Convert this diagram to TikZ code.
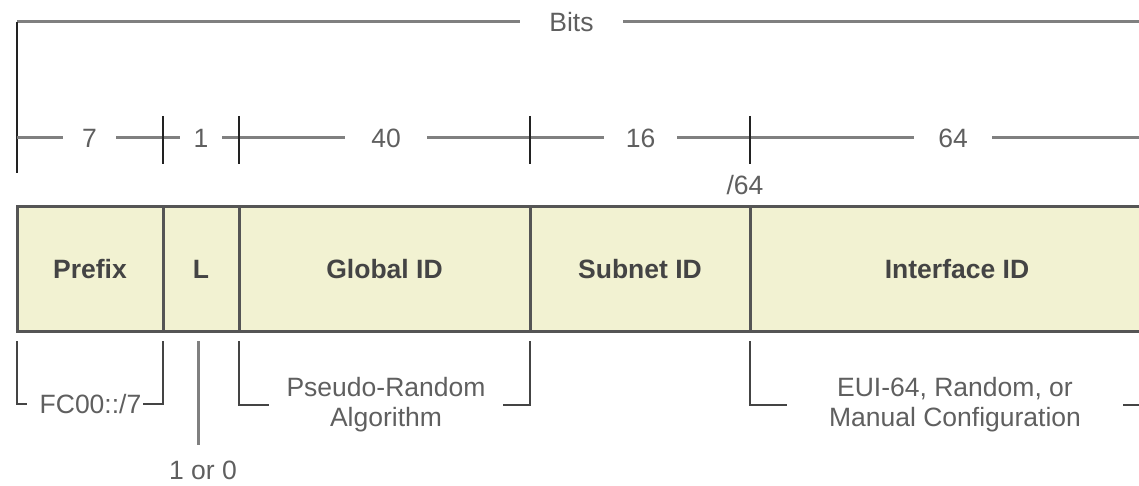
\documentclass[tikz,border=0pt]{standalone}
\usepackage{fontspec}
\setmainfont{Liberation Sans}
\definecolor{cellfill}{RGB}{242,242,210}
\definecolor{cellborder}{RGB}{85,85,85}
\definecolor{rulergray}{RGB}{128,128,128}
\definecolor{txtgray}{RGB}{95,95,95}
\definecolor{boldgray}{RGB}{68,68,68}
\definecolor{tickcol}{RGB}{34,34,34}
\begin{document}
\begin{tikzpicture}[x=1pt,y=-1pt,
  every node/.style={font=\fontsize{26.5}{30}\selectfont, text=txtgray, inner sep=0pt},
  cell/.style={draw=cellborder, line width=3pt, fill=cellfill, minimum height=124pt, font=\fontsize{26.5}{30}\selectfont\bfseries, text=boldgray},
  rulerline/.style={draw=rulergray, line width=3pt},
  tickline/.style={draw=tickcol, line width=2pt},
  bracketline/.style={draw=boldgray, line width=2pt},
  gapnode/.style={minimum height=20pt},
]
\useasboundingbox (0,0) rectangle (1139,486);
\clip (0,0) rectangle (1139,486);

% top "Bits" span
\node[gapnode, minimum width=103pt] (bits) at (571.5,22) {Bits};
\coordinate (tl) at (17,22);
\coordinate (tlb) at (17,173);
\coordinate (tr) at (1145,22);
\draw[rulerline] (tl) -- (bits.west);
\draw[rulerline] (bits.east) -- (tr);
\draw[tickline] (tlb) -- (tl);

% ruler row
\node[gapnode, minimum width=53pt] (n7) at (89.5,138) {7};
\node[gapnode, minimum width=42pt] (n1) at (201,138) {1};
\node[gapnode, minimum width=82pt] (n40) at (386,138) {40};
\node[gapnode, minimum width=73pt] (n16) at (640.5,138) {16};
\node[gapnode, minimum width=78pt] (n64) at (953,138) {64};
\coordinate (r0) at (17,138);
\coordinate (rend) at (1145,138);
\draw[rulerline] (r0) -- (n7.west);
\draw[rulerline] (n7.east) -- (n1.west);
\draw[rulerline] (n1.east) -- (n40.west);
\draw[rulerline] (n40.east) -- (n16.west);
\draw[rulerline] (n16.east) -- (n64.west);
\draw[rulerline] (n64.east) -- (rend);

\foreach \x/\nm in {163/a,239/b,530/c,750/d}{
  \coordinate (tt\nm) at (\x,116);
  \coordinate (tb\nm) at (\x,164);
  \draw[tickline] (tt\nm) -- (tb\nm);
}
\node (slash64) at (745,185) {/64};

% address cells
\node[cell, minimum width=146pt] (prefix) at (90,269) {Prefix};
\node[cell, minimum width=76pt] (lbit) at (201,269) {L};
\node[cell, minimum width=291pt] (global) at (384.5,269) {Global ID};
\node[cell, minimum width=220pt] (subnet) at (640,269) {Subnet ID};
\node[cell, minimum width=414pt] (iface) at (957,269) {Interface ID};

% bracket: FC00::/7
\node[minimum width=116pt, minimum height=20pt] (fc) at (85,404) {\hspace*{11pt}FC00::/7};
\coordinate (fcl) at (17,341);
\coordinate (fcr) at (163,341);
\draw[bracketline] (fcl) |- (fc.west);
\draw[bracketline] (fc.east) -| (fcr);

% L bit
\coordinate (lt) at (198,341);
\coordinate (lb) at (198,445);
\draw[rulerline] (lt) -- (lb);
\node (lval) at (203,470) {1 or 0};

% bracket: pseudo-random
\node[minimum width=234pt, align=center] (pr) at (386,405) {Pseudo-Random\\Algorithm};
\coordinate (prl) at (239,341);
\coordinate (prr) at (530,341);
\draw[bracketline] (prl) |- (pr.west);
\draw[bracketline] (pr.east) -| (prr);

% bracket: EUI-64
\node[minimum width=336pt, align=center] (eui) at (955,405) {EUI-64, Random, or\\Manual Configuration};
\coordinate (euil) at (750,341);
\coordinate (euir) at (1160,341);
\draw[bracketline] (euil) |- (eui.west);
\draw[bracketline] (eui.east) -| (euir);
\end{tikzpicture}
\end{document}
